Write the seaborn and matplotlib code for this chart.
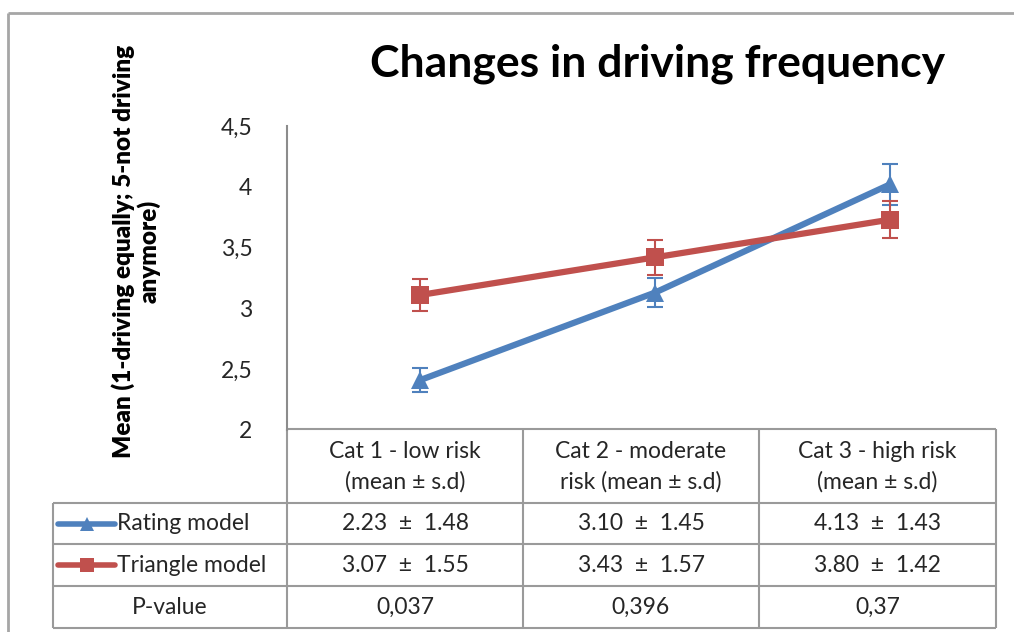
import numpy as np
import pandas as pd
import seaborn as sns
import matplotlib.pyplot as plt

# data
categories = ['Cat 1 - low risk\n(mean ± s.d)', 'Cat 2 - moderate\nrisk (mean ± s.d)', 'Cat 3 - high risk\n(mean ± s.d)']
series_names = ['Rating model', 'Triangle model']
rating_mean = [2.41, 3.13, 4.02]
rating_err = [0.10, 0.12, 0.17]
triangle_mean = [3.11, 3.42, 3.73]
triangle_err = [0.13, 0.145, 0.155]
rating_cells = ['2.23  ±  1.48', '3.10  ±  1.45', '4.13  ±  1.43']
triangle_cells = ['3.07  ±  1.55', '3.43  ±  1.57', '3.80  ±  1.42']
p_values = ['0,037', '0,396', '0,37']
y_ticks = [2, 2.5, 3, 3.5, 4, 4.5]
y_tick_labels = ['2', '2,5', '3', '3,5', '4', '4,5']

colors = {'Rating model': '#4F81BD', 'Triangle model': '#C0504D'}
markers = {'Rating model': '^', 'Triangle model': 's'}

sns.set_theme(style='white')
plt.rcParams['font.family'] = ['Lato', 'DejaVu Sans']

W, H = 1014, 632
fig = plt.figure(figsize=(W / 100, H / 100), dpi=100)

def fx(px):
    return px / W

def fy(py):
    return 1 - py / H

# background layer in pixel coords for the data table and frame
bg = fig.add_axes([0, 0, 1, 1], zorder=-1)
bg.set_xlim(0, W)
bg.set_ylim(H, 0)
bg.axis('off')

grid_c = '#9a9a9a'
bg.hlines(13, 8, W, color='#a6a6a6', lw=2)
bg.vlines(8, 13, H, color='#a6a6a6', lw=2)

col_edges = [287, 523, 759, 996]
row_edges = [429, 503, 544, 586, 628]
bg.hlines(row_edges[0], col_edges[0], col_edges[-1], color=grid_c, lw=1.5)
bg.hlines(row_edges[1:], 53, col_edges[-1], color=grid_c, lw=1.5)
bg.vlines(col_edges, row_edges[0], row_edges[-1], color=grid_c, lw=1.5)
bg.vlines(53, row_edges[1], row_edges[-1], color=grid_c, lw=1.5)

txt_c = '#262626'
fs = 16.5
centers = [(a + b) / 2 for a, b in zip(col_edges[:-1], col_edges[1:])]
row_mid = [(a + b) / 2 for a, b in zip(row_edges[:-1], row_edges[1:])]
for cx, lab in zip(centers, categories):
    bg.text(cx, row_mid[0] + 1, lab, ha='center', va='center', fontsize=fs,
            color=txt_c, linespacing=1.55)
for r, cells in zip(row_mid[1:], [rating_cells, triangle_cells, p_values]):
    for cx, t in zip(centers, cells):
        bg.text(cx, r, t, ha='center', va='center', fontsize=fs, color=txt_c)

# legend keys inside the table
for r, name in zip(row_mid[1:3], series_names):
    bg.plot([58, 115], [r, r], color=colors[name], lw=4, solid_capstyle='round')
    bg.plot([86.5], [r], marker=markers[name], color=colors[name], ms=10, mew=0)
    bg.text(117, r, name, ha='left', va='center', fontsize=fs, color=txt_c)
bg.text(170, row_mid[3], 'P-value', ha='center', va='center', fontsize=fs, color=txt_c)

# main plot
ax = fig.add_axes([fx(287), fy(430), fx(996) - fx(287), (430 - 126) / H])
ax.patch.set_alpha(0)
x = np.arange(len(categories))
df = pd.DataFrame({
    'x': np.concatenate([x, x]),
    'mean': rating_mean + triangle_mean,
    'err': rating_err + triangle_err,
    'series': [series_names[0]] * 3 + [series_names[1]] * 3,
})
sns.lineplot(data=df, x='x', y='mean', hue='series', style='series',
             palette=colors, markers=markers, dashes=False, lw=4.5,
             markersize=13, markeredgewidth=0, legend=False, ax=ax, zorder=3)
for name, sub in df.groupby('series'):
    ax.errorbar(sub['x'], sub['mean'], yerr=sub['err'], fmt='none',
                ecolor=colors[name], elinewidth=1.5, capsize=6, capthick=1.5, zorder=2)

ax.set_xlim(-(420 - 287) / 235, 2 + (996 - 890) / 235)
ax.set_ylim(2, 4.5)
ax.set_yticks(y_ticks)
ax.set_yticklabels(y_tick_labels)
ax.set_xticks([])
ax.set_xlabel('')
ax.set_ylabel('')
ax.tick_params(axis='y', length=0, pad=25, labelsize=fs, labelcolor=txt_c)
for s in ['top', 'right', 'bottom']:
    ax.spines[s].set_visible(False)
ax.spines['left'].set_color('#8c8c8c')
ax.spines['left'].set_linewidth(1.5)

fig.text(fx(658), fy(64), 'Changes in driving frequency', ha='center', va='center',
         fontsize=32, fontweight='bold', color='black')
fig.text(fx(136), fy(251), 'Mean (1-driving equally; 5-not driving\nanymore)', rotation=90,
         ha='center', va='center', fontsize=17.5, fontweight='heavy', color='black',
         multialignment='center', linespacing=1.1)

fig.savefig('out.png', dpi=100)
